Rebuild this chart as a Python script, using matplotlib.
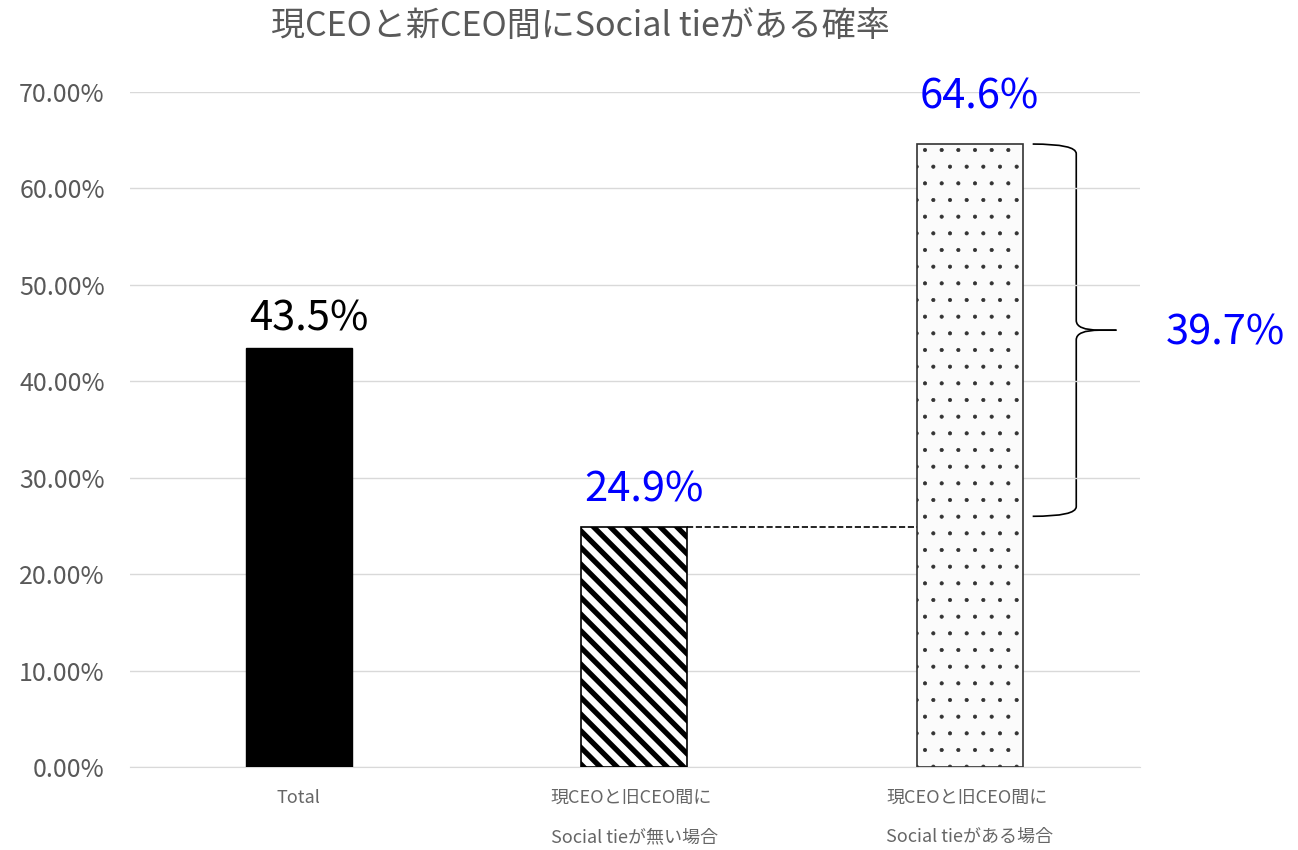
import matplotlib
matplotlib.use('Agg')
import matplotlib.pyplot as plt
from matplotlib.path import Path
from matplotlib.patches import PathPatch
from matplotlib.ticker import PercentFormatter

plt.rcParams['font.family'] = ['Noto Sans CJK JP', 'DejaVu Sans']

# data
categories = ['Total', '現CEOと旧CEO間に\nSocial tieが無い場合', '現CEOと旧CEO間に\nSocial tieがある場合']
values = [43.5, 24.9, 64.6]
label_texts = ['43.5%', '24.9%', '64.6%']
label_colors = ['black', 'blue', 'blue']
diff_text = '39.7%'
title = '現CEOと新CEO間にSocial tieがある確率'

fig = plt.figure(figsize=(12.98, 8.5), dpi=100)
ax = fig.add_axes([0.100, 0.0976, 0.778, 0.7942])

x = range(len(categories))
bw = 0.316
ax.bar(0, values[0], width=bw, color='black', edgecolor='black', zorder=3)
b2 = ax.bar(1, values[1], width=bw, color='white', edgecolor='black', hatch='\\\\', linewidth=1.2, zorder=3)
b2[0].set_hatch_linewidth(3.8)
b3 = ax.bar(2, values[2], width=bw, color='#fbfbfb', edgecolor='#333333', hatch='.', linewidth=1.2, zorder=3)
b3[0].set_hatch_linewidth(0.5)

# value labels
offsets = [3.0, 3.8, 4.9]
for i, (v, t, c) in enumerate(zip(values, label_texts, label_colors)):
    ax.text(i + 0.03, v + offsets[i], t, ha='center', va='center', fontsize=30, color=c)

# dashed connector
ax.plot([1 + bw / 2, 2 - bw / 2], [values[1], values[1]], ls='--', color='black', lw=1.2, zorder=4)

# curly brace
x0 = 2 + bw / 2 + 0.03
xm = x0 + 0.13
xp = xm + 0.12
top = values[2]
bot = 26.0
mid = (top + bot) / 2
codes = [Path.MOVETO, Path.CURVE3, Path.CURVE3, Path.LINETO, Path.CURVE3, Path.CURVE3, Path.LINETO]
for end, sgn in [(top, 1), (bot, -1)]:
    verts = [
        (x0, end), (xm, end), (xm, end - sgn * 1.0),
        (xm, mid + sgn * 1.0),
        (xm, mid), (xp - 0.05, mid), (xp, mid),
    ]
    ax.add_patch(PathPatch(Path(verts, codes), fill=False, lw=1.2, clip_on=False))
ax.text(2.585, mid - 0.3, diff_text, ha='left', va='center', fontsize=30, color='blue', clip_on=False)

ax.set_xlim(-0.504, 2.507)
ax.set_ylim(0, 70)
ax.set_yticks(range(0, 71, 10))
ax.yaxis.set_major_formatter(PercentFormatter(decimals=2))
ax.set_xticks(list(x))
ax.set_xticklabels(categories, fontsize=13, color='#666666', linespacing=2.5, multialignment='left')
ax.tick_params(axis='y', labelsize=18, colors='#595959', length=0, pad=18)
ax.tick_params(axis='x', length=0, pad=16)
ax.grid(axis='y', color='#d9d9d9', lw=1, zorder=0)
for s in ['top', 'right', 'left']:
    ax.spines[s].set_visible(False)
ax.spines['bottom'].set_color('#d9d9d9')

fig.text(0.447, 0.968, title, ha='center', va='center', fontsize=24.5, color='#595959')

fig.savefig('out.png', dpi=100)
